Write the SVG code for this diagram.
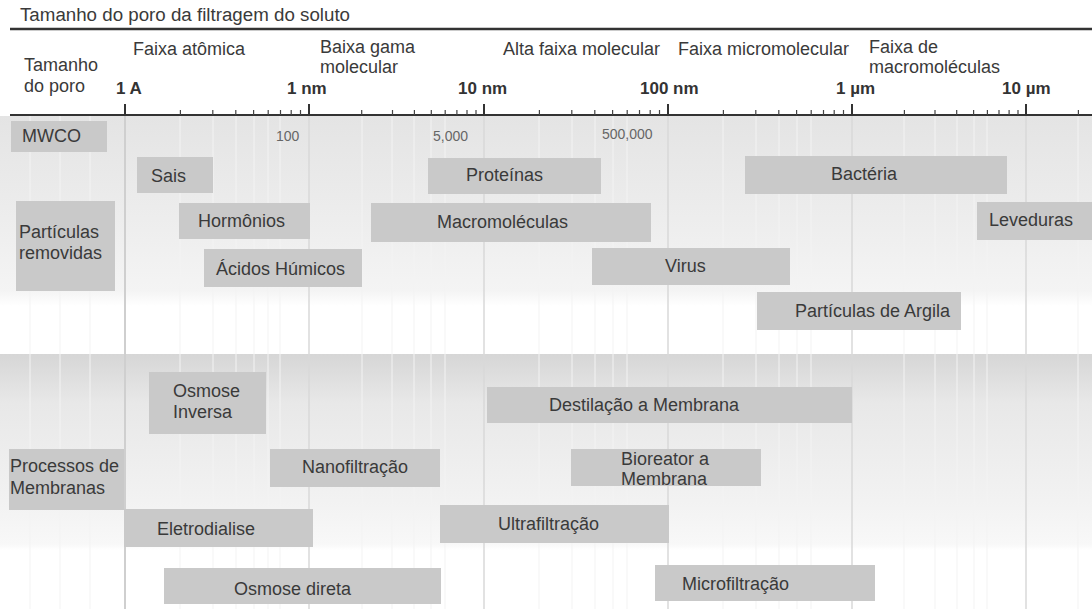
<svg xmlns="http://www.w3.org/2000/svg" width="1092" height="609" viewBox="0 0 1092 609">
<defs>
<style>
text{font-family:"Liberation Sans",Arial,sans-serif;font-size:18px;fill:#3a3a3a}
.ax{font-weight:bold;font-size:17px;fill:#333}
.mw{font-size:14px;fill:#666}
.box{fill:#c9c9c9}
.maj{stroke:#333;stroke-width:2}
.min{stroke:#444;stroke-width:1.2}
.grid{stroke:#d9d9d9;stroke-width:1.5}
.fgrid{stroke:#f3f3f3;stroke-width:1}
</style>
<linearGradient id="gTop" x1="0" y1="0" x2="0" y2="1">
<stop offset="0" stop-color="#e4e4e4"/>
<stop offset="0.6" stop-color="#eeeeee"/>
<stop offset="0.92" stop-color="#f4f4f4"/>
<stop offset="1" stop-color="#ffffff"/>
</linearGradient>
<linearGradient id="gProc" x1="0" y1="0" x2="0" y2="1">
<stop offset="0" stop-color="#d6d6d6"/>
<stop offset="0.25" stop-color="#e8e8e8"/>
<stop offset="0.75" stop-color="#f2f2f2"/>
<stop offset="0.97" stop-color="#f8f8f8"/>
<stop offset="1" stop-color="#ffffff"/>
</linearGradient>
</defs>
<rect width="1092" height="609" fill="#ffffff"/>
<g id="backgrounds">
<rect x="0" y="116" width="1092" height="190" fill="url(#gTop)"/>
<rect x="0" y="354" width="1092" height="196" fill="url(#gProc)"/>
</g>
<g id="grid">
<g class="fgrid">
<path d="M180 116V609M213 116V609M236 116V609M254 116V609M268 116V609M280 116V609M362 116V609M392 116V609M414 116V609M431 116V609M445 116V609M539 116V609M572 116V609M595 116V609M613 116V609M627 116V609M723 116V609M756 116V609M779 116V609M797 116V609M811 116V609M904 116V609M935 116V609M957 116V609M974 116V609M987 116V609M1078 116V609M30 116V609M60 116V609M90 116V609"/>
</g>
<line x1="125" y1="116" x2="125" y2="609" stroke="#cfcfcf" stroke-width="2"/>
<g class="grid">
<line x1="309" y1="116" x2="309" y2="609"/>
<line x1="484" y1="116" x2="484" y2="609"/>
<line x1="668" y1="116" x2="668" y2="609"/>
<line x1="852" y1="116" x2="852" y2="609"/>
<line x1="1026" y1="116" x2="1026" y2="609"/>
</g>
</g>
<g id="header">
<text x="20" y="21" textLength="330" lengthAdjust="spacingAndGlyphs">Tamanho do poro da filtragem do soluto</text>
<line x1="10" y1="29" x2="1092" y2="29" stroke="#333" stroke-width="2.5"/>
<text x="24" y="71">Tamanho</text>
<text x="24" y="92">do poro</text>
<text x="133" y="55">Faixa atômica</text>
<text x="320" y="53">Baixa gama</text>
<text x="320" y="73">molecular</text>
<text x="503" y="55">Alta faixa molecular</text>
<text x="678" y="55">Faixa micromolecular</text>
<text x="869" y="53">Faixa de</text>
<text x="869" y="73">macromoléculas</text>
</g>
<g id="axis">
<line x1="10" y1="115" x2="1092" y2="115" stroke="#333" stroke-width="2"/>
<g class="maj">
<line x1="125" y1="104" x2="125" y2="115"/>
<line x1="309" y1="104" x2="309" y2="115"/>
<line x1="484" y1="104" x2="484" y2="115"/>
<line x1="668" y1="104" x2="668" y2="115"/>
<line x1="852" y1="104" x2="852" y2="115"/>
<line x1="1026" y1="104" x2="1026" y2="115"/>
</g>
<path class="min" d="M180.4 110V115M212.8 110V115M235.8 110V115M253.6 110V115M268.2 110V115M280.5 110V115M291.2 110V115M300.5 110V115M361.7 110V115M392.5 110V115M414.4 110V115M431.3 110V115M445.2 110V115M456.9 110V115M467 110V115M476 110V115M539.4 110V115M571.8 110V115M594.8 110V115M612.6 110V115M627.2 110V115M639.5 110V115M650.2 110V115M659.5 110V115M723.4 110V115M755.8 110V115M778.8 110V115M796.6 110V115M811.2 110V115M823.5 110V115M834.2 110V115M843.5 110V115M904.4 110V115M935 110V115M956.7 110V115M973.6 110V115M987.4 110V115M999 110V115M1009.1 110V115M1018 110V115M1078.4 110V115"/>
<text class="ax" x="116" y="94">1 A</text>
<text class="ax" x="287" y="94">1 nm</text>
<text class="ax" x="458" y="94">10 nm</text>
<text class="ax" x="640" y="94">100 nm</text>
<text class="ax" x="836" y="94">1 µm</text>
<text class="ax" x="1002" y="94">10 µm</text>
</g>
<g id="mwco">
<rect class="box" x="11" y="121" width="96" height="31"/>
<text x="22" y="142">MWCO</text>
<text class="mw" x="276" y="141">100</text>
<text class="mw" x="433" y="141">5,000</text>
<text class="mw" x="602" y="139">500,000</text>
</g>
<g id="particulas-removidas"><rect class="box" x="16" y="201" width="99" height="90"/><text x="19" y="238">Partículas</text><text x="19" y="259">removidas</text></g>
<g id="sais"><rect class="box" x="137" y="157" width="76" height="36"/><text x="151" y="182">Sais</text></g>
<g id="hormonios"><rect class="box" x="179" y="203" width="131" height="36"/><text x="198" y="227">Hormônios</text></g>
<g id="acidos-humicos"><rect class="box" x="204" y="249" width="158" height="38"/><text x="216" y="275">Ácidos Húmicos</text></g>
<g id="proteinas"><rect class="box" x="428" y="158" width="173" height="36"/><text x="466" y="181">Proteínas</text></g>
<g id="macromoleculas"><rect class="box" x="371" y="203" width="280" height="39"/><text x="437" y="228">Macromoléculas</text></g>
<g id="bacteria"><rect class="box" x="745" y="156" width="262" height="38"/><text x="831" y="180">Bactéria</text></g>
<g id="leveduras"><rect class="box" x="977" y="202" width="115" height="38"/><text x="989" y="226">Leveduras</text></g>
<g id="virus"><rect class="box" x="592" y="248" width="198" height="37"/><text x="665" y="272">Virus</text></g>
<g id="particulas-argila"><rect class="box" x="757" y="292" width="204" height="38"/><text x="795" y="317">Partículas de Argila</text></g>
<g id="processos-membranas"><rect class="box" x="9" y="449" width="115" height="61"/><text x="10" y="472">Processos de</text><text x="10" y="494">Membranas</text></g>
<g id="osmose-inversa"><rect class="box" x="149" y="372" width="117" height="62"/><text x="173" y="397">Osmose</text><text x="173" y="418">Inversa</text></g>
<g id="destilacao"><rect class="box" x="487" y="387" width="365" height="36"/><text x="549" y="411">Destilação a Membrana</text></g>
<g id="nanofiltracao"><rect class="box" x="270" y="449" width="170" height="38"/><text x="302" y="473">Nanofiltração</text></g>
<g id="bioreator"><rect class="box" x="571" y="449" width="190" height="37"/><text x="621" y="465">Bioreator a</text><text x="621" y="485">Membrana</text></g>
<g id="eletrodialise"><rect class="box" x="124" y="509" width="189" height="38"/><text x="157" y="535">Eletrodialise</text></g>
<g id="ultrafiltracao"><rect class="box" x="440" y="505" width="229" height="38"/><text x="498" y="530">Ultrafiltração</text></g>
<g id="osmose-direta"><rect class="box" x="164" y="568" width="277" height="36"/><text x="234" y="595">Osmose direta</text></g>
<g id="microfiltracao"><rect class="box" x="655" y="565" width="220" height="36"/><text x="682" y="590">Microfiltração</text></g>
<g id="connectors"></g>
</svg>
